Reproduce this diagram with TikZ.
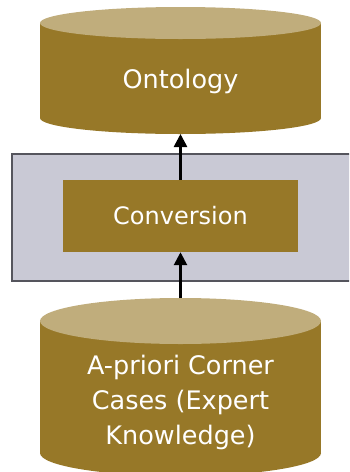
\documentclass[tikz,border=0pt]{standalone}
\usepackage{fontspec}
\setmainfont{DejaVu Sans}
\usetikzlibrary{arrows.meta,positioning}

\definecolor{olive}{RGB}{151,120,40}
\definecolor{lid}{RGB}{192,173,124}
\definecolor{panel}{RGB}{201,201,213}
\definecolor{panelline}{RGB}{85,85,93}

\begin{document}
\begin{tikzpicture}[
    x=1pt, y=-1pt,
    body/.style={rectangle, fill=olive, minimum width=281pt, inner sep=0pt, outer sep=0pt},
    process/.style={rectangle, fill=olive, minimum width=235pt, minimum height=72pt,
                    inner sep=0pt, text=white, font=\fontsize{24}{35}\selectfont},
    panelbox/.style={rectangle, draw=panelline, line width=2.5pt, fill=panel,
                     minimum width=350pt, minimum height=127pt},
    storetext/.style={text=white, align=center, font=\fontsize{25.5}{35}\selectfont},
    flow/.style={line width=2.6pt, -{Triangle[length=13pt,width=13pt]}}
]
\clip (0,0) rectangle (349,472);

% grey panel behind the conversion step
\node[panelbox] (panel) at (187,217.5) {};
\node[process] (conv) at (180.5,216) {Conversion};

% ontology store (body, rounded base, lid)
\node[body, minimum height=95pt] (onto) at (180.5,70.5) {};
\fill[olive] (onto.south west) arc[start angle=180, end angle=360, x radius=140.5pt, y radius=16pt];
\fill[lid] (onto.north) ellipse[x radius=140.5pt, y radius=16pt];
\coordinate (onto-base) at ([yshift=-16pt]onto.south);
\node[storetext] (ontotext) at ([yshift=-10.5pt]onto.center) {Ontology};

% corner cases store
\node[body, minimum height=132pt] (cases) at (180.5,387) {};
\fill[olive] (cases.south west) arc[start angle=180, end angle=360, x radius=140.5pt, y radius=23pt];
\fill[lid] (cases.north) ellipse[x radius=140.5pt, y radius=23pt];
\coordinate (cases-lid) at ([yshift=23pt]cases.north);
\node[storetext] (casestext) at ([yshift=-15pt]cases.center) {A-priori Corner\\Cases (Expert\\Knowledge)};

% flow between them
\draw[flow] (conv.north) -- (onto-base);
\draw[flow] (cases-lid) -- (conv.south);

\end{tikzpicture}
\end{document}
